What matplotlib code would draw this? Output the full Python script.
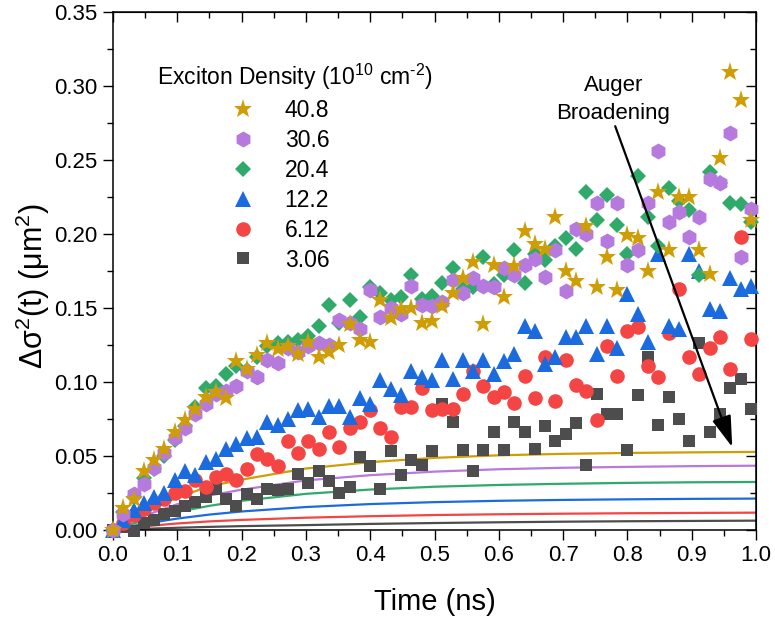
import numpy as np
import matplotlib
matplotlib.use("Agg")
import matplotlib.pyplot as plt
from matplotlib.ticker import MultipleLocator, FormatStrFormatter

plt.rcParams["font.family"] = ["Liberation Sans", "DejaVu Sans"]
plt.rcParams["mathtext.fontset"] = "custom"
plt.rcParams["mathtext.rm"] = "Liberation Sans"
plt.rcParams["mathtext.it"] = "Liberation Sans"
plt.rcParams["mathtext.bf"] = "Liberation Sans:bold"

# measurement grid (ns), 16 ps steps
t = np.round(np.arange(63) * 0.016, 3)

# exciton density (1e10 cm^-2) -> delta sigma^2 (um^2)
d408 = [0, 0.015, 0.021, 0.040, 0.047, 0.055, 0.066, 0.074, 0.082, 0.090, 0.093, 0.089, 0.114, 0.109, 0.118, 0.126,
        0.122, 0.124, 0.119, 0.127, 0.117, 0.120, 0.125, 0.139, 0.128, 0.127, 0.155, 0.143, 0.149, 0.150, 0.140, 0.141,
        0.151, 0.160, 0.170, 0.181, 0.139, 0.179, 0.157, 0.178, 0.202, 0.193, 0.190, 0.211, 0.175, 0.168, 0.205, 0.164,
        0.184, 0.162, 0.199, 0.197, 0.175, 0.228, 0.189, 0.225, 0.225, 0.189, 0.173, 0.251, 0.309, 0.290, 0.209]
d306 = [0, 0.011, 0.024, 0.031, 0.042, 0.052, 0.062, 0.069, 0.078, 0.085, 0.092, 0.094, 0.097, 0.107, 0.103, 0.115,
        0.113, 0.123, 0.120, 0.124, 0.126, 0.125, 0.142, 0.140, 0.136, 0.162, 0.144, 0.150, 0.146, 0.165, 0.152, 0.151,
        0.154, 0.169, 0.160, 0.170, 0.165, 0.164, 0.177, 0.172, 0.179, 0.183, 0.171, 0.189, 0.161, 0.203, 0.200, 0.221,
        0.195, 0.221, 0.179, 0.189, 0.221, 0.256, 0.208, 0.215, 0.198, 0.211, 0.237, 0.234, 0.268, 0.184, 0.217]
d204 = [0, 0.012, 0.022, 0.035, 0.041, 0.050, 0.061, 0.070, 0.083, 0.096, 0.097, 0.105, 0.111, 0.108, 0.117, 0.124,
        0.126, 0.127, 0.128, 0.131, 0.138, 0.152, 0.140, 0.155, 0.144, 0.164, 0.160, 0.155, 0.157, 0.172, 0.156, 0.158,
        0.167, 0.177, 0.163, 0.164, 0.184, 0.166, 0.172, 0.189, 0.167, 0.186, 0.182, 0.192, 0.197, 0.190, 0.228, 0.209,
        0.226, 0.206, 0.186, 0.239, 0.211, 0.192, 0.231, 0.222, 0.216, 0.172, 0.242, 0.234, 0.221, 0.220, 0.208]
d122 = [0, 0.007, 0.0135, 0.018, 0.0225, 0.025, 0.034, 0.040, 0.037, 0.046, 0.048, 0.055, 0.058, 0.062, 0.063, 0.073,
        0.071, 0.075, 0.081, 0.082, 0.076, 0.084, 0.084, 0.076, 0.089, 0.085, 0.101, 0.095, 0.091, 0.107, 0.103, 0.101,
        0.115, 0.102, 0.115, 0.107, 0.115, 0.105, 0.114, 0.119, 0.138, 0.134, 0.112, 0.117, 0.130, 0.130, 0.138, 0.119,
        0.138, 0.123, 0.159, 0.146, 0.127, 0.186, 0.138, 0.136, 0.186, 0.175, 0.149, 0.148, 0.170, 0.163, 0.165]
d612 = [0, 0.005, 0.010, 0.014, 0.018, 0.021, 0.025, 0.026, 0.034, 0.029, 0.036, 0.038, 0.034, 0.041, 0.051, 0.048,
        0.043, 0.060, 0.052, 0.060, 0.055, 0.066, 0.056, 0.069, 0.073, 0.081, 0.069, 0.063, 0.083, 0.083, 0.096, 0.081,
        0.082, 0.082, 0.092, 0.107, 0.097, 0.090, 0.093, 0.086, 0.104, 0.089, 0.117, 0.087, 0.115, 0.098, 0.094, 0.074,
        0.124, 0.104, 0.134, 0.137, 0.111, 0.103, 0.133, 0.163, 0.117, 0.105, 0.123, 0.130, 0.109, 0.198, 0.129]
d306b = [0, 0.002, -0.001, 0.005, 0.007, 0.011, 0.013, 0.016, 0.019, 0.022, 0.028, 0.021, 0.016, 0.024, 0.021, 0.028,
         0.027, 0.028, 0.038, 0.032, 0.040, 0.033, 0.025, 0.029, 0.049, 0.043, 0.028, 0.053, 0.037, 0.047, 0.044, 0.053,
         0.085, 0.073, 0.054, 0.040, 0.054, 0.066, 0.054, 0.073, 0.066, 0.055, 0.070, 0.060, 0.065, 0.072, 0.044, 0.092,
         0.078, 0.078, 0.054, 0.091, 0.117, 0.071, 0.090, 0.075, 0.060, 0.126, 0.066, 0.078, 0.096, 0.102, 0.082]

# diffusion-only model curves
t_fit = [0, 0.05, 0.1, 0.15, 0.2, 0.3, 0.4, 0.5, 0.6, 0.7, 0.8, 0.9, 1.0]
f408 = [0, 0.0125, 0.0220, 0.0295, 0.0340, 0.0415, 0.0458, 0.0487, 0.0504, 0.0514, 0.0520, 0.0524, 0.0527]
f306 = [0, 0.0098, 0.0174, 0.0233, 0.0272, 0.0335, 0.0370, 0.0394, 0.0410, 0.0420, 0.0426, 0.0431, 0.0434]
f204 = [0, 0.0068, 0.0122, 0.0163, 0.0197, 0.0244, 0.0273, 0.0292, 0.0304, 0.0312, 0.0318, 0.0322, 0.0324]
f122 = [0, 0.0043, 0.0077, 0.0104, 0.0125, 0.0155, 0.0175, 0.0188, 0.0197, 0.0203, 0.0207, 0.0210, 0.0212]
f612 = [0, 0.0025, 0.0044, 0.0058, 0.0068, 0.0083, 0.0093, 0.0101, 0.0106, 0.0110, 0.0113, 0.0115, 0.0117]
f306b = [0, 0.0008, 0.0015, 0.0021, 0.0026, 0.0033, 0.0041, 0.0047, 0.0052, 0.0056, 0.0059, 0.0061, 0.0063]

labels = ["40.8", "30.6", "20.4", "12.2", "6.12", "3.06"]
data = [d408, d306, d204, d122, d612, d306b]
fits = [f408, f306, f204, f122, f612, f306b]
colors = ["#CF9E06", "#B679DD", "#2FAA6B", "#1C6BDE", "#F44444", "#4D4D4D"]
markers = ["*", "h", "D", "^", "o", "s"]
msizes = [14, 11.5, 8.4, 11, 10.5, 8.5]

fig = plt.figure(figsize=(7.75, 6.23), dpi=100)
ax = fig.add_axes([0.1458, 0.1493, 0.8297, 0.8322])

for f, c in zip(fits, colors):
    ax.plot(t_fit, f, color=c, lw=1.6, zorder=2)

handles = {}
for lab, y, c, m, s in reversed(list(zip(labels, data, colors, markers, msizes))):
    h, = ax.plot(t, y, ls="none", marker=m, ms=s, mew=0, color=c, clip_on=False, zorder=3)
    handles[lab] = h

ax.set_xlim(0, 1.0)
ax.set_ylim(0, 0.35)
ax.xaxis.set_major_locator(MultipleLocator(0.1))
ax.xaxis.set_minor_locator(MultipleLocator(0.05))
ax.yaxis.set_major_locator(MultipleLocator(0.05))
ax.yaxis.set_minor_locator(MultipleLocator(0.025))
ax.xaxis.set_major_formatter(FormatStrFormatter("%.1f"))
ax.yaxis.set_major_formatter(FormatStrFormatter("%.2f"))
ax.tick_params(which="major", direction="out", length=7, width=1.0, labelsize=16, pad=4)
ax.tick_params(which="minor", direction="out", length=4, width=1.0)
for sp in ax.spines.values():
    sp.set_linewidth(1.1)

top = ax.secondary_xaxis("top")
top.xaxis.set_major_locator(MultipleLocator(0.1))
top.xaxis.set_minor_locator(MultipleLocator(0.05))
top.tick_params(which="major", direction="in", length=7, width=1.0, labeltop=False)
top.tick_params(which="minor", direction="in", length=4, width=1.0)
right = ax.secondary_yaxis("right")
right.yaxis.set_major_locator(MultipleLocator(0.05))
right.yaxis.set_minor_locator(MultipleLocator(0.025))
right.tick_params(which="major", direction="in", length=7, width=1.0, labelright=False)
right.tick_params(which="minor", direction="in", length=4, width=1.0)

ax.set_xlabel("Time (ns)", fontsize=21)
ax.set_ylabel("Δσ$^2$(t) (μm$^2$)", fontsize=22)
ax.xaxis.set_label_coords(0.5, -0.139)
ax.xaxis.label.set_va("center")
ax.yaxis.set_label_coords(-0.124, 0.47)
ax.yaxis.label.set_va("center")

ax.text(0.0684, 0.8737, r"Exciton Density (10$^{10}$ cm$^{\text{-2}}$)", transform=ax.transAxes,
        ha="left", va="center", fontsize=16.5)
ax.legend([handles[l] for l in labels], labels, loc="upper left", bbox_to_anchor=(0.185, 0.831),
          frameon=False, fontsize=16.5, handlelength=1.0, handletextpad=1.3, labelspacing=0.3,
          borderpad=0, borderaxespad=0, numpoints=1)

ax.text(0.778, 0.2905, "Auger\nBroadening", ha="center", va="center", fontsize=16, linespacing=1.45)
ax.annotate("", xy=(0.963, 0.056), xytext=(0.781, 0.2726),
            arrowprops=dict(arrowstyle="-|>,head_length=0.8,head_width=0.25", color="black",
                            lw=1.6, mutation_scale=24, shrinkA=0, shrinkB=0))

fig.savefig("out.png", dpi=100)
